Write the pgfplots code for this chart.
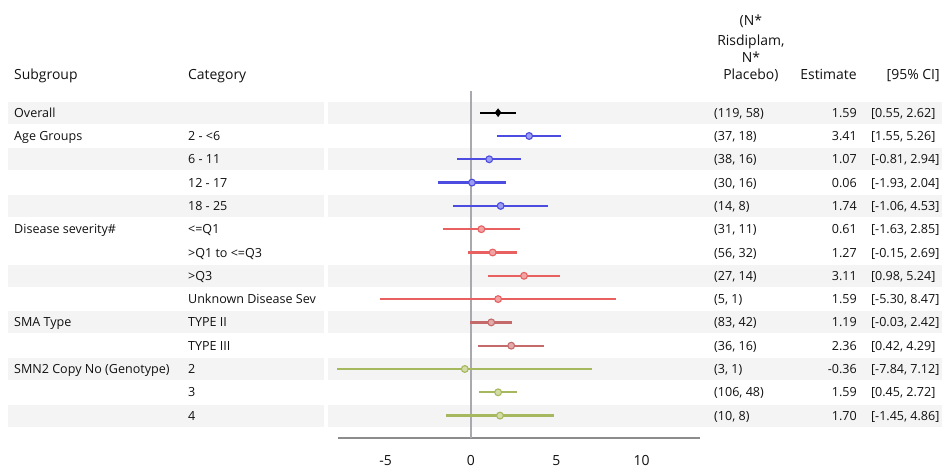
\documentclass[border=0pt]{standalone}
\usepackage{pgfplots}
\pgfplotsset{compat=1.18}
\usepackage{pgfplotstable}
\usepackage{fontspec}
\setmainfont{Open Sans}
\definecolor{band}{HTML}{F4F4F4}
\definecolor{refl}{HTML}{A8A8B0}
\definecolor{axl}{HTML}{8C8C8C}
\definecolor{cblue}{HTML}{4C4CE0}
\definecolor{fblue}{HTML}{9C9CF2}
\definecolor{cred}{HTML}{E86060}
\definecolor{fred}{HTML}{F2A4A4}
\definecolor{csma}{HTML}{C46A6A}
\definecolor{fsma}{HTML}{E2AAAA}
\definecolor{cgrn}{HTML}{A6B85E}
\definecolor{fgrn}{HTML}{D2DCA4}
\definecolor{txt}{HTML}{111111}

\pgfplotstableread{
y est lo hi
0 1.59 0.55 2.62
}\tOverall
\pgfplotstableread{
y est lo hi
-1 3.41 1.55 5.26
-2 1.07 -0.81 2.94
-3 0.06 -1.93 2.04
-4 1.74 -1.06 4.53
}\tAge
\pgfplotstableread{
y est lo hi
-5 0.61 -1.63 2.85
-6 1.27 -0.15 2.69
-7 3.11 0.98 5.24
-8 1.59 -5.30 8.47
}\tSev
\pgfplotstableread{
y est lo hi
-9 1.19 -0.03 2.42
-10 2.36 0.42 4.29
}\tSMA
\pgfplotstableread{
y est lo hi
-11 -0.36 -7.84 7.12
-12 1.59 0.45 2.72
-13 1.70 -1.45 4.86
}\tSMN

\newcommand{\bodyf}{\fontsize{12.6}{14}\selectfont}
\newcommand{\headf}{\fontsize{14}{16}\selectfont}
\newcommand{\ciplot}[2]{%
  \addplot[only marks, mark=none, forget plot,
    error bars/.cd, x dir=both, x explicit, error mark=none,
    error bar style={line width=2.3bp, #1}]
    table[x=est, y=y, x error plus expr=\thisrow{hi}-\thisrow{est},
          x error minus expr=\thisrow{est}-\thisrow{lo}] {#2};}

\begin{document}
\begin{tikzpicture}
\begin{axis}[
  x=17.07bp, y=23.3bp,
  xmin=-7.8, xmax=13.4, ymin=-13.96, ymax=0.93,
  clip=false,
  axis x line*=bottom, axis y line=none,
  axis line style={draw=axl, line width=1.4bp, -},
  xtick={-5,0,5,10}, xticklabels={-5,0,5,10},
  major tick length=0pt,
  xticklabel style={anchor=base, yshift=-28bp, font=\headf, text=txt},
  ytick=\empty,
]
% bands
\fill[band] (axis cs:-27.12,0.47) rectangle (axis cs:-8.61,-0.47);
\fill[band] (axis cs:-8.38,0.47) rectangle (axis cs:27.59,-0.47);
\fill[band] (axis cs:-27.12,-1.53) rectangle (axis cs:-8.61,-2.47);
\fill[band] (axis cs:-8.38,-1.53) rectangle (axis cs:27.59,-2.47);
\fill[band] (axis cs:-27.12,-3.53) rectangle (axis cs:-8.61,-4.47);
\fill[band] (axis cs:-8.38,-3.53) rectangle (axis cs:27.59,-4.47);
\fill[band] (axis cs:-27.12,-6.53) rectangle (axis cs:-8.61,-7.47);
\fill[band] (axis cs:-8.38,-6.53) rectangle (axis cs:27.59,-7.47);
\fill[band] (axis cs:-27.12,-8.53) rectangle (axis cs:-8.61,-9.47);
\fill[band] (axis cs:-8.38,-8.53) rectangle (axis cs:27.59,-9.47);
\fill[band] (axis cs:-27.12,-10.53) rectangle (axis cs:-8.61,-11.47);
\fill[band] (axis cs:-8.38,-10.53) rectangle (axis cs:27.59,-11.47);
\fill[band] (axis cs:-27.12,-12.53) rectangle (axis cs:-8.61,-13.47);
\fill[band] (axis cs:-8.38,-12.53) rectangle (axis cs:27.59,-13.47);
% reference line
\addplot[refl, line width=1.8bp, forget plot] coordinates {(0,0.93) (0,-13.96)};

% CIs
\ciplot{black}{\tOverall}
\ciplot{cblue}{\tAge}
\ciplot{cred}{\tSev}
\ciplot{csma}{\tSMA}
\ciplot{cgrn}{\tSMN}

% markers
\addplot[only marks, mark=diamond*, mark size=4bp, mark options={fill=black, draw=black}] table[x=est, y=y] {\tOverall};
\addplot[only marks, mark=*, mark size=3.4bp, mark options={fill=fblue, draw=cblue, line width=1.1bp}] table[x=est, y=y] {\tAge};
\addplot[only marks, mark=*, mark size=3.4bp, mark options={fill=fred, draw=cred, line width=1.1bp}] table[x=est, y=y] {\tSev};
\addplot[only marks, mark=*, mark size=3.4bp, mark options={fill=fsma, draw=csma, line width=1.1bp}] table[x=est, y=y] {\tSMA};
\addplot[only marks, mark=*, mark size=3.4bp, mark options={fill=fgrn, draw=cgrn, line width=1.1bp}] table[x=est, y=y] {\tSMN};

% headers
\begin{scope}[every node/.style={inner sep=0pt, text=txt, font=\headf}]
\node[anchor=base west, yshift=-5bp] at (axis cs:-26.77,1.62) {Subgroup};
\node[anchor=base west, yshift=-5bp] at (axis cs:-16.58,1.62) {Category};
\node[anchor=base, yshift=-5bp] at (axis cs:16.40,3.95) {(N*};
\node[anchor=base, yshift=-5bp] at (axis cs:16.40,3.12) {Risdiplam,};
\node[anchor=base, yshift=-5bp] at (axis cs:16.40,2.39) {N*};
\node[anchor=base, yshift=-5bp] at (axis cs:16.40,1.62) {Placebo)};
\node[anchor=base east, yshift=-5bp] at (axis cs:22.61,1.62) {Estimate};
\node[anchor=base east, yshift=-5bp] at (axis cs:27.47,1.62) {[95\% CI]};
\end{scope}

% body
\begin{scope}[every node/.style={inner sep=0pt, text=txt, font=\bodyf, yshift=-4.6bp}]
\node[anchor=base west] at (axis cs:-26.77,0) {Overall};
\node[anchor=base west] at (axis cs:-26.77,-1) {Age Groups};
\node[anchor=base west] at (axis cs:-26.77,-5) {Disease severity\#};
\node[anchor=base west] at (axis cs:-26.77,-9) {SMA Type};
\node[anchor=base west] at (axis cs:-26.77,-11) {SMN2 Copy No (Genotype)};
\node[anchor=base west] at (axis cs:-16.58,-1) {2 - <6};
\node[anchor=base west] at (axis cs:-16.58,-2) {6 - 11};
\node[anchor=base west] at (axis cs:-16.58,-3) {12 - 17};
\node[anchor=base west] at (axis cs:-16.58,-4) {18 - 25};
\node[anchor=base west] at (axis cs:-16.58,-5) {<=Q1};
\node[anchor=base west] at (axis cs:-16.58,-6) {>Q1 to <=Q3};
\node[anchor=base west] at (axis cs:-16.58,-7) {>Q3};
\node[anchor=base west] at (axis cs:-16.58,-8) {Unknown Disease Sev};
\node[anchor=base west] at (axis cs:-16.58,-9) {TYPE II};
\node[anchor=base west] at (axis cs:-16.58,-10) {TYPE III};
\node[anchor=base west] at (axis cs:-16.58,-11) {2};
\node[anchor=base west] at (axis cs:-16.58,-12) {3};
\node[anchor=base west] at (axis cs:-16.58,-13) {4};
\node[anchor=base west] at (axis cs:14.24,0) {(119, 58)};
\node[anchor=base west] at (axis cs:14.24,-1) {(37, 18)};
\node[anchor=base west] at (axis cs:14.24,-2) {(38, 16)};
\node[anchor=base west] at (axis cs:14.24,-3) {(30, 16)};
\node[anchor=base west] at (axis cs:14.24,-4) {(14, 8)};
\node[anchor=base west] at (axis cs:14.24,-5) {(31, 11)};
\node[anchor=base west] at (axis cs:14.24,-6) {(56, 32)};
\node[anchor=base west] at (axis cs:14.24,-7) {(27, 14)};
\node[anchor=base west] at (axis cs:14.24,-8) {(5, 1)};
\node[anchor=base west] at (axis cs:14.24,-9) {(83, 42)};
\node[anchor=base west] at (axis cs:14.24,-10) {(36, 16)};
\node[anchor=base west] at (axis cs:14.24,-11) {(3, 1)};
\node[anchor=base west] at (axis cs:14.24,-12) {(106, 48)};
\node[anchor=base west] at (axis cs:14.24,-13) {(10, 8)};
\node[anchor=base east] at (axis cs:22.61,0) {1.59};
\node[anchor=base east] at (axis cs:22.61,-1) {3.41};
\node[anchor=base east] at (axis cs:22.61,-2) {1.07};
\node[anchor=base east] at (axis cs:22.61,-3) {0.06};
\node[anchor=base east] at (axis cs:22.61,-4) {1.74};
\node[anchor=base east] at (axis cs:22.61,-5) {0.61};
\node[anchor=base east] at (axis cs:22.61,-6) {1.27};
\node[anchor=base east] at (axis cs:22.61,-7) {3.11};
\node[anchor=base east] at (axis cs:22.61,-8) {1.59};
\node[anchor=base east] at (axis cs:22.61,-9) {1.19};
\node[anchor=base east] at (axis cs:22.61,-10) {2.36};
\node[anchor=base east] at (axis cs:22.61,-11) {-0.36};
\node[anchor=base east] at (axis cs:22.61,-12) {1.59};
\node[anchor=base east] at (axis cs:22.61,-13) {1.70};
\node[anchor=base west] at (axis cs:23.43,0) {[0.55, 2.62]};
\node[anchor=base west] at (axis cs:23.43,-1) {[1.55, 5.26]};
\node[anchor=base west] at (axis cs:23.43,-2) {[-0.81, 2.94]};
\node[anchor=base west] at (axis cs:23.43,-3) {[-1.93, 2.04]};
\node[anchor=base west] at (axis cs:23.43,-4) {[-1.06, 4.53]};
\node[anchor=base west] at (axis cs:23.43,-5) {[-1.63, 2.85]};
\node[anchor=base west] at (axis cs:23.43,-6) {[-0.15, 2.69]};
\node[anchor=base west] at (axis cs:23.43,-7) {[0.98, 5.24]};
\node[anchor=base west] at (axis cs:23.43,-8) {[-5.30, 8.47]};
\node[anchor=base west] at (axis cs:23.43,-9) {[-0.03, 2.42]};
\node[anchor=base west] at (axis cs:23.43,-10) {[0.42, 4.29]};
\node[anchor=base west] at (axis cs:23.43,-11) {[-7.84, 7.12]};
\node[anchor=base west] at (axis cs:23.43,-12) {[0.45, 2.72]};
\node[anchor=base west] at (axis cs:23.43,-13) {[-1.45, 4.86]};
\end{scope}
\path (axis cs:-27.59,4.837) rectangle (axis cs:27.83,-15.163);
\end{axis}
\end{tikzpicture}
\end{document}
